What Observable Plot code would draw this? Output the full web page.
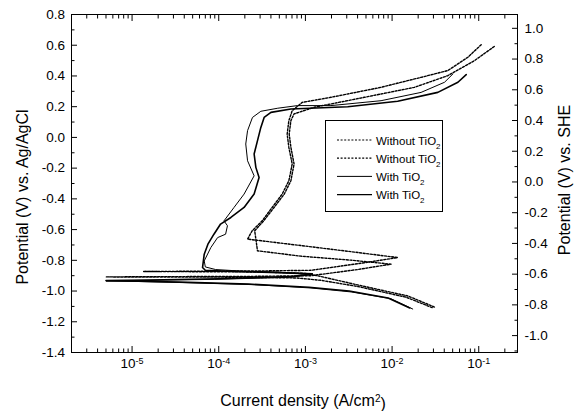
<!DOCTYPE html>
<html><head><meta charset="utf-8">
<script src="https://cdn.jsdelivr.net/npm/d3@7"></script>
<script src="https://cdn.jsdelivr.net/npm/@observablehq/plot@0.6"></script>
<style>
body{margin:0;background:#fff;}
#chart{width:585px;height:411px;}
</style></head><body><div id="chart"></div>
<script>
// ---- data (current density in A/cm², potential in V vs Ag/AgCl) ----
const seriesNames = ["Without TiO2", "Without TiO2", "With TiO2", "With TiO2"];

const withoutA_current = [3.08e-2, 1.52e-2, 4.0e-3, 1.5e-3, 1e-3, 3e-4, 5e-5, 1.36e-5, 5e-5, 3e-4, 1.16e-3, 4.4e-3, 1.16e-2, 3.4e-3, 8.9e-4, 2.15e-4, 2.43e-4, 3.17e-4, 4.13e-4, 5.39e-4, 6.44e-4, 7.04e-4, 6.44e-4, 6.16e-4, 6.44e-4, 7.04e-4, 9.18e-4, 1.97e-3, 7.46e-3, 2.16e-2, 4.4e-2, 7.5e-2, 0.107];
const withoutA_potential = [-1.104, -1.032, -0.96, -0.905, -0.885, -0.876, -0.874, -0.873, -0.871, -0.869, -0.865, -0.819, -0.782, -0.744, -0.704, -0.662, -0.608, -0.543, -0.456, -0.369, -0.282, -0.173, -0.065, 0.022, 0.109, 0.174, 0.228, 0.261, 0.326, 0.391, 0.435, 0.522, 0.604];

const withoutB_current = [2.9e-2, 1.45e-2, 4.0e-3, 1.5e-3, 8e-4, 2e-4, 3e-5, 5e-6, 3e-5, 2e-4, 1.16e-3, 4e-3, 9.73e-3, 3.36e-3, 8.87e-4, 2.8e-4, 2.6e-4, 3.3e-4, 4.35e-4, 5.7e-4, 6.8e-4, 7.4e-4, 6.8e-4, 6.5e-4, 6.8e-4, 7.4e-4, 1.26e-3, 4.79e-3, 1.81e-2, 4.4e-2, 8.94e-2, 0.152];
const withoutB_potential = [-1.108, -1.04, -0.97, -0.93, -0.915, -0.91, -0.909, -0.908, -0.906, -0.905, -0.9, -0.86, -0.825, -0.799, -0.773, -0.738, -0.608, -0.543, -0.456, -0.369, -0.282, -0.173, -0.065, 0.022, 0.109, 0.153, 0.196, 0.261, 0.326, 0.402, 0.5, 0.593];

const withA_current = [1.73e-2, 9.7e-3, 3.4e-3, 1.16e-3, 2.3e-4, 3.6e-5, 1.2e-5, 5e-6, 1.6e-5, 9e-5, 7e-4, 1.22e-3, 5.2e-4, 1.8e-4, 9.2e-5, 7e-5, 6.8e-5, 8.1e-5, 9.7e-5, 1.2e-4, 1.26e-4, 1.15e-4, 1.5e-4, 1.96e-4, 2.56e-4, 2.15e-4, 2.05e-4, 2.15e-4, 2.45e-4, 3.06e-4, 4.8e-4, 8.1e-4, 1.97e-3, 7.46e-3, 2.16e-2, 4.03e-2, 5.03e-2];
const withA_potential = [-1.117, -1.05, -1.006, -0.98, -0.957, -0.944, -0.938, -0.934, -0.930, -0.924, -0.91, -0.89, -0.879, -0.87, -0.86, -0.843, -0.804, -0.717, -0.652, -0.63, -0.575, -0.543, -0.456, -0.369, -0.25, -0.152, -0.043, 0.044, 0.13, 0.17, 0.19, 0.207, 0.207, 0.239, 0.293, 0.359, 0.413];

const withB_current = [1.6e-2, 9e-3, 3.2e-3, 1.1e-3, 2.2e-4, 3.5e-5, 1.2e-5, 5e-6, 1.6e-5, 1e-4, 7e-4, 1.2e-3, 5e-4, 1.5e-4, 7e-5, 6.5e-5, 6.8e-5, 7.5e-5, 8.8e-5, 1.05e-4, 1.38e-4, 1.96e-4, 2.56e-4, 2.92e-4, 2.68e-4, 2.56e-4, 2.8e-4, 3.06e-4, 3.34e-4, 4e-4, 6.8e-4, 3.08e-3, 1.16e-2, 3.37e-2, 5.75e-2, 7.17e-2];
const withB_potential = [-1.11, -1.045, -1.0, -0.975, -0.955, -0.942, -0.936, -0.932, -0.928, -0.92, -0.905, -0.888, -0.88, -0.873, -0.865, -0.847, -0.76, -0.695, -0.63, -0.564, -0.521, -0.456, -0.369, -0.261, -0.195, -0.108, -0.021, 0.065, 0.13, 0.163, 0.185, 0.2, 0.235, 0.293, 0.359, 0.409];

// ---- axes ----
const xDomain = [2e-6, 0.28];
const yDomain = [-1.4, 0.8];
const xMajorTicks = [1e-5, 1e-4, 1e-3, 1e-2, 1e-1];
const leftMajorTicks = [-1.4, -1.2, -1.0, -0.8, -0.6, -0.4, -0.2, 0, 0.2, 0.4, 0.6, 0.8];
const sheMajorTicks = [-1.0, -0.8, -0.6, -0.4, -0.2, 0, 0.2, 0.4, 0.6, 0.8, 1.0];
const sheOffset = 0.29; // SHE = Ag/AgCl + offset (as drawn)

const xMinorTicks = [];
for (let e = -6; e <= -1; e++) for (let m = 2; m <= 9; m++) {
  const v = m * Math.pow(10, e);
  if (v >= xDomain[0] && v <= xDomain[1]) xMinorTicks.push(v);
}
const leftMinorTicks = leftMajorTicks.slice(0, -1).map(v => v + 0.1);
const sheMinorTicks = [-1.1, ...sheMajorTicks.slice(0, -1).map(v => v + 0.1)];

const series = [
  {name: seriesNames[0], current: withoutA_current, potential: withoutA_potential, dash: "2,1.6", width: 1.4},
  {name: seriesNames[1], current: withoutB_current, potential: withoutB_potential, dash: "2,1.6", width: 1.4},
  {name: seriesNames[2], current: withA_current, potential: withA_potential, dash: null, width: 1},
  {name: seriesNames[3], current: withB_current, potential: withB_potential, dash: null, width: 1.6}
];

const lineMarks = series.map(s =>
  Plot.line(s.current.map((c, i) => ({current: c, potential: s.potential[i]})), {
    x: "current", y: "potential", stroke: "black", strokeWidth: s.width,
    strokeDasharray: s.dash, curve: "linear"
  })
);

const W = 585, H = 411, mT = 14, mB = 59, mL = 71, mR = 68;
const majorLen = 6, minorLen = 3.5;
const fmt1 = d => (Math.round(d * 10) / 10).toFixed(1);
const blank = () => "";

// inward ticks: positive tick length, shifted back inside the frame
const inTicks = (axis, values, anchor, len) => {
  const shift = {left: {dx: len}, right: {dx: -len}, bottom: {dy: -len}, top: {dy: len}}[anchor];
  return axis(values, {anchor, tickSize: len, tickFormat: blank, label: null, stroke: "black", ...shift});
};

const chart = Plot.plot({
  width: W, height: H,
  marginTop: mT, marginBottom: mB, marginLeft: mL, marginRight: mR,
  style: {fontFamily: '"Liberation Sans", Arial, sans-serif', fontSize: "13.5px", color: "black", background: "white"},
  x: {type: "log", domain: xDomain},
  y: {domain: yDomain},
  marks: [
    // tick labels
    Plot.axisX(xMajorTicks, {anchor: "bottom", tickSize: 0, tickPadding: 6, tickFormat: d => String(Math.round(Math.log10(d))), label: null}),
    Plot.axisY(leftMajorTicks, {anchor: "left", tickSize: 0, tickPadding: 6.5, tickFormat: fmt1, label: null}),
    Plot.axisY(sheMajorTicks.map(v => v - sheOffset), {anchor: "right", tickSize: 0, tickPadding: 7, tickFormat: d => fmt1(d + sheOffset), label: null}),
    // inward tick marks
    inTicks(Plot.axisX, xMajorTicks, "bottom", majorLen),
    inTicks(Plot.axisX, xMinorTicks, "bottom", minorLen),
    inTicks(Plot.axisX, xMajorTicks, "top", majorLen),
    inTicks(Plot.axisX, xMinorTicks, "top", minorLen),
    inTicks(Plot.axisY, leftMajorTicks, "left", majorLen),
    inTicks(Plot.axisY, leftMinorTicks, "left", minorLen),
    inTicks(Plot.axisY, sheMajorTicks.map(v => v - sheOffset), "right", majorLen),
    inTicks(Plot.axisY, sheMinorTicks.map(v => v - sheOffset), "right", minorLen),
    Plot.frame({stroke: "black", strokeWidth: 1}),
    ...lineMarks
  ]
});
document.getElementById("chart").appendChild(chart);

const svg = d3.select(chart);
// superscript exponents on x tick labels
svg.selectAll('g[aria-label="x-axis tick label"] text').each(function() {
  const t = d3.select(this);
  const exp = t.text();
  if (!exp) return;
  t.text("");
  t.append("tspan").text("10");
  t.append("tspan").attr("dy", "-0.5em").attr("font-size", "9px").text(exp);
});

const font = '"Liberation Sans", Arial, sans-serif';
// axis titles
svg.append("text").attr("transform", "translate(28,197) rotate(-90)")
  .attr("text-anchor", "middle").attr("font-family", font).attr("font-size", "16px")
  .text("Potential (V) vs. Ag/AgCl");
svg.append("text").attr("transform", "translate(570,180) rotate(-90)")
  .attr("text-anchor", "middle").attr("font-family", font).attr("font-size", "16px")
  .text("Potential (V) vs. SHE");
const xt = svg.append("text").attr("x", 303).attr("y", 406)
  .attr("text-anchor", "middle").attr("font-family", font).attr("font-size", "16px");
xt.append("tspan").text("Current density (A/cm");
xt.append("tspan").attr("dy", "-0.45em").attr("font-size", "10px").text("2");
xt.append("tspan").attr("dy", "0.45em").text(")");

// legend
const lg = svg.append("g").attr("font-family", font).attr("font-size", "11.5px").attr("text-anchor", "start");
lg.append("rect").attr("x", 325.5).attr("y", 120.5).attr("width", 117).attr("height", 91)
  .attr("fill", "white").attr("stroke", "black");
series.forEach((s, i) => {
  const y = 140 + i * 18.2;
  lg.append("line").attr("x1", 337).attr("x2", 372).attr("y1", y).attr("y2", y)
    .attr("stroke", "black").attr("stroke-width", Math.min(s.width, 1.2))
    .attr("stroke-dasharray", s.dash);
  const t = lg.append("text").attr("x", 376).attr("y", y + 4.5);
  t.append("tspan").text(s.name.slice(0, -1));
  t.append("tspan").attr("dy", "4").attr("font-size", "8px").text(s.name.slice(-1));
});
</script></body></html>
